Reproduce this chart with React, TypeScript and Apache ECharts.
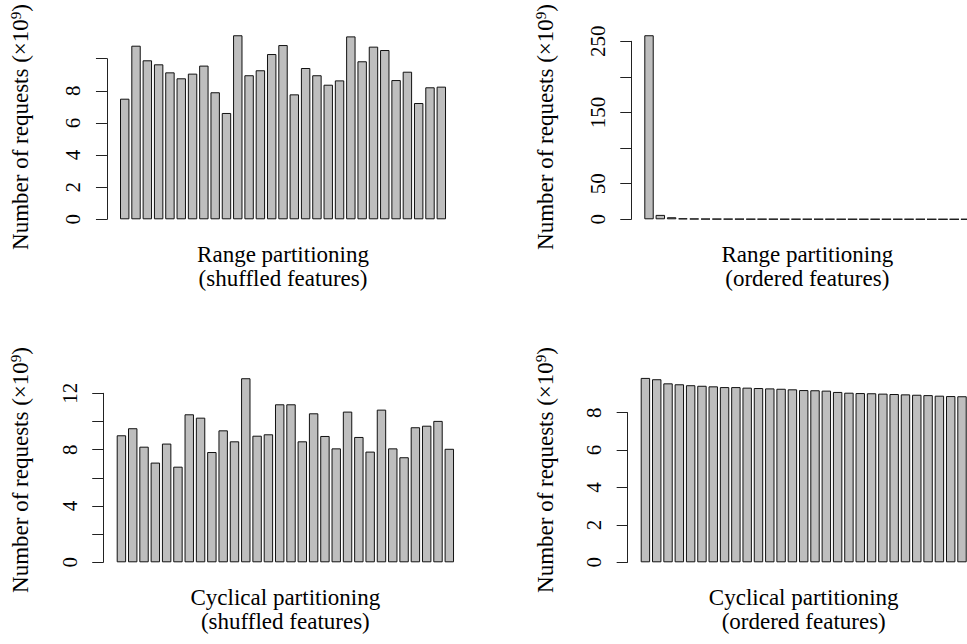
import React, { useEffect, useRef } from "react";
import * as echarts from "echarts";

// ---- data (×10^9 requests per feature block) ----
const features29 = ["1","2","3","4","5","6","7","8","9","10","11","12","13","14","15","16","17","18","19","20","21","22","23","24","25","26","27","28","29"];
const features30 = [...features29, "30"];

const rangeShuffled = [7.51, 10.81, 9.9, 9.65, 9.15, 8.78, 9.07, 9.57, 7.91, 6.62, 11.46, 8.97, 9.28, 10.29, 10.85, 7.78, 9.42, 8.97, 8.38, 8.65, 11.39, 9.84, 10.75, 10.54, 8.67, 9.19, 7.24, 8.22, 8.26];
const rangeOrdered = [258.5, 6.2, 2.9, 1.3, 0.9, 0.7, 0.6, 0.5, 0.5, 0.4, 0.4, 0.4, 0.3, 0.3, 0.3, 0.3, 0.3, 0.2, 0.2, 0.2, 0.2, 0.2, 0.2, 0.2, 0.2, 0.1, 0.1, 0.1, 0.1];
const cyclicalShuffled = [9.02, 9.52, 8.21, 7.08, 8.43, 6.79, 10.51, 10.27, 7.83, 9.37, 8.59, 13.07, 8.99, 9.09, 11.22, 11.22, 8.59, 10.58, 8.97, 8.09, 10.7, 8.9, 7.86, 10.84, 8.09, 7.46, 9.59, 9.7, 10.04, 8.06];
const cyclicalOrdered = [9.86, 9.79, 9.57, 9.52, 9.47, 9.44, 9.41, 9.37, 9.37, 9.34, 9.32, 9.3, 9.28, 9.25, 9.21, 9.2, 9.18, 9.11, 9.07, 9.05, 9.04, 9.02, 9.0, 8.98, 8.96, 8.94, 8.91, 8.89, 8.88];

// tick labels shown (R drops overlapping ones)
const labelsRangeShuffled = [0, 2, 4, 6, 8];
const labelsRangeOrdered = [0, 50, 150, 250];
const labelsCyclicalShuffled = [0, 4, 8, 12];
const labelsCyclicalOrdered = [0, 2, 4, 6, 8];

const titles = [
  "Range partitioning\n(shuffled features)",
  "Range partitioning\n(ordered features)",
  "Cyclical partitioning\n(shuffled features)",
  "Cyclical partitioning\n(ordered features)",
];

const FONT = "'Liberation Serif', 'Times New Roman', serif";

export default function App() {
  const ref = useRef<HTMLDivElement>(null);
  useEffect(() => {
    if (!ref.current) return;
    const chart = echarts.init(ref.current, undefined, { renderer: "svg" });

    const panels = [
      { grid: { left: 119.06, top: 58.7, width: 327.9, height: 160.6 }, cats: features29, data: rangeShuffled, max: 10, interval: 2, labels: labelsRangeShuffled, offset: 12.1 },
      { grid: { left: 643.36, top: 41.3, width: 327.9, height: 178 }, cats: features29, data: rangeOrdered, max: 250, interval: 50, labels: labelsRangeOrdered, offset: 12.1 },
      { grid: { left: 115.76, top: 393.3, width: 339.2, height: 169 }, cats: features30, data: cyclicalShuffled, max: 12, interval: 2, labels: labelsCyclicalShuffled, offset: 12.55 },
      { grid: { left: 639.76, top: 412.7, width: 327.9, height: 149.6 }, cats: features29, data: cyclicalOrdered, max: 8, interval: 2, labels: labelsCyclicalOrdered, offset: 12.1 },
    ];

    const axisColor = "#222";

    const ytitle = (x: number, y: number) => ({
      type: "text",
      x,
      y,
      rotation: Math.PI / 2,
      style: {
        text: "Number of requests (×10{sup|9})",
        font: `23px ${FONT}`,
        fill: "#000",
        align: "center",
        verticalAlign: "middle",
        rich: {
          sup: { fontSize: 15, fontFamily: FONT, verticalAlign: "top", fill: "#000" },
        },
      },
    });

    chart.setOption({
      animation: false,
      backgroundColor: "#fff",
      grid: panels.map((p) => ({ ...p.grid, containLabel: false, outerBoundsMode: "none" })),
      xAxis: panels.map((p, i) => ({
        type: "category",
        gridIndex: i,
        data: p.cats,
        axisLine: { show: false },
        axisTick: { show: false },
        axisLabel: { show: false },
        splitLine: { show: false },
        name: titles[i],
        nameLocation: "middle",
        nameGap: 23,
        nameTextStyle: { fontFamily: FONT, fontSize: 23, lineHeight: 24, color: "#000" },
      })),
      yAxis: panels.map((p, i) => ({
        type: "value",
        gridIndex: i,
        min: 0,
        max: p.max,
        interval: p.interval,
        offset: p.offset,
        axisLine: { show: true, lineStyle: { color: axisColor, width: 1 } },
        axisTick: { show: true, length: 11, lineStyle: { color: axisColor, width: 1 } },
        splitLine: { show: false },
        axisLabel: {
          show: true,
          rotate: 90,
          margin: 23,
          fontFamily: FONT,
          fontSize: 21,
          color: "#000",
          formatter: (v: number) => (p.labels.includes(v) ? String(v) : ""),
        },
      })),
      series: panels.map((p, i) => ({
        type: "bar",
        xAxisIndex: i,
        yAxisIndex: i,
        data: p.data,
        barWidth: "83.33%",
        clip: false,
        itemStyle: { color: "#bebebe", borderColor: "#111", borderWidth: 1 },
        emphasis: { disabled: true },
      })),
      graphic: [ytitle(20, 127), ytitle(545, 127), ytitle(20, 470), ytitle(545, 470)],
    });

    return () => chart.dispose();
  }, []);

  return (
    <div
      ref={ref}
      style={{ position: "absolute", left: 0, top: 0, width: 967, height: 644, background: "#fff" }}
    />
  );
}
